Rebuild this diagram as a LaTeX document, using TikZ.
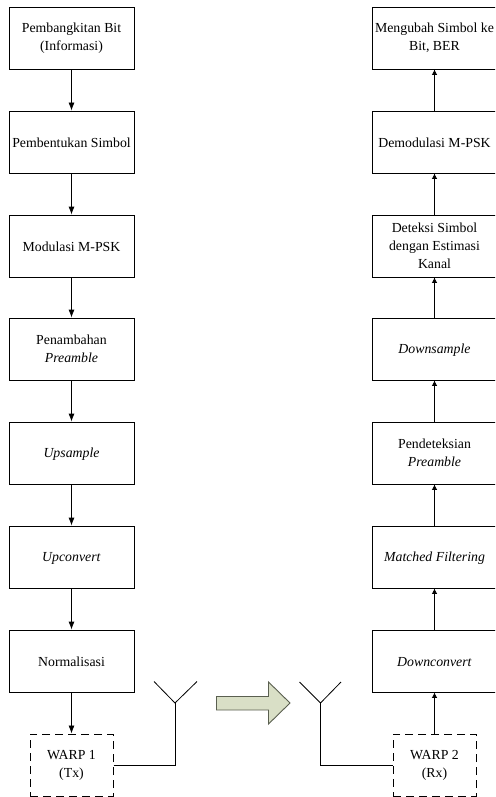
\documentclass[tikz,border=0pt]{standalone}
\usepackage{fontspec}
\setmainfont{Liberation Serif}
\usetikzlibrary{arrows.meta}
\definecolor{arrowfill}{HTML}{D9DFC6}
\definecolor{arrowline}{HTML}{5A5F50}
\tikzset{
  x=1pt,y=-1pt,
  blockbox/.style={draw=black,line width=0.8pt,minimum width=125pt,minimum height=62pt,inner sep=0pt,align=center,font=\fontsize{13.8pt}{18pt}\selectfont,text=black,execute at begin node={\rule{0pt}{12pt}}},
  warpbox/.style={blockbox,line width=1pt,dash pattern=on 8pt off 5pt,minimum width=83pt,minimum height=62pt},
  flowdown/.style={draw=black,line width=0.8pt,-{Latex[length=8pt,width=6pt]}},
  flowup/.style={draw=black,line width=0.8pt,-{Latex[length=5.5pt,width=5.5pt]}},
  wire/.style={draw=black,line width=0.8pt},
  bigarrow/.style={draw=arrowline,line width=0.9pt,fill=arrowfill}
}
\begin{document}
\begin{tikzpicture}
\clip (0,0) rectangle (495,797);
\fill[white] (0,0) rectangle (495,797);
% left column
\node[blockbox] (a1) at (71.5,38) {Pembangkitan Bit\\(Informasi)};
\node[blockbox] (a2) at (71.5,142) {Pembentukan Simbol};
\node[blockbox] (a3) at (71.5,246) {Modulasi M-PSK};
\node[blockbox] (a4) at (71.5,349) {Penambahan\\\textit{Preamble}};
\node[blockbox] (a5) at (71.5,453) {\textit{Upsample}};
\node[blockbox] (a6) at (71.5,557) {\textit{Upconvert}};
\node[blockbox] (a7) at (71.5,661) {Normalisasi};
\node[warpbox] (w1) at (71.5,765) {WARP 1\\(Tx)};
% right column
\node[blockbox] (b1) at (434.5,38) {Mengubah Simbol ke\\Bit, BER};
\node[blockbox] (b2) at (434.5,142) {Demodulasi M-PSK};
\node[blockbox] (b3) at (434.5,246) {Deteksi Simbol\\dengan Estimasi\\Kanal};
\node[blockbox] (b4) at (434.5,349) {\textit{Downsample}};
\node[blockbox] (b5) at (434.5,453) {Pendeteksian\\\textit{Preamble}};
\node[blockbox] (b6) at (434.5,557) {\textit{Matched Filtering}};
\node[blockbox] (b7) at (434.5,661) {\textit{Downconvert}};
\node[warpbox] (w2) at (434.5,765) {WARP 2\\(Rx)};
% flows
\foreach \p/\q in {a1/a2,a2/a3,a3/a4,a4/a5,a5/a6,a6/a7,a7/w1}
  \draw[flowdown] (\p) -- (\q);
\foreach \p/\q in {w2/b7,b7/b6,b6/b5,b5/b4,b4/b3,b3/b2,b2/b1}
  \draw[flowup] (\p) -- (\q);
% antennas
\coordinate (t0) at (175,703);
\coordinate (tl) at (154,681.5);
\coordinate (tr) at (197,681.5);
\coordinate (r0) at (320.5,703);
\coordinate (rl) at (299.5,682);
\coordinate (rr) at (341,682);
\draw[wire] (w1.east) -| (t0);
\draw[wire] (tl) -- (t0) -- (tr);
\draw[wire] (w2.west) -| (r0);
\draw[wire] (rl) -- (r0) -- (rr);
% block arrow
\draw[bigarrow] (216.5,696.5) -- (268.5,696.5) -- (268.5,682) -- (290,703) -- (268.5,724) -- (268.5,710) -- (216.5,710) -- cycle;
\end{tikzpicture}
\end{document}
